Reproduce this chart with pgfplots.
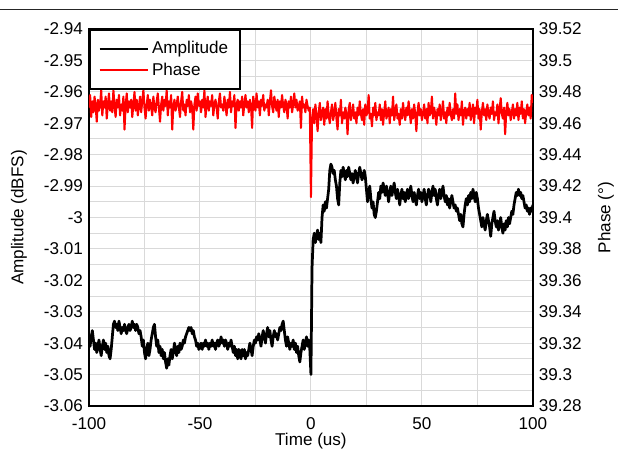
\documentclass[border=0pt]{standalone}
\usepackage{pgfplots}
\pgfplotsset{compat=1.18}
\usepackage{fontspec}
\setmainfont{Liberation Sans}
\begin{document}
\begin{tikzpicture}
\useasboundingbox (-52.07pt,-25.16pt) rectangle (309.5pt,237.5pt);
\draw[line width=0.6pt, black!85] (-52.07pt,231.7pt) -- (309.5pt,231.7pt);
\pgfplotsset{
  common/.style={
    scale only axis, width=259.7pt, height=220.5pt, at={(0pt,0pt)}, anchor=south west,
    xmin=-100, xmax=100,
    /pgf/number format/assume math mode=true,
    /pgf/number format/fixed,
    /pgf/number format/precision=2,
    tick label style={font=\fontsize{10}{12}\selectfont},
    label style={font=\fontsize{10}{12}\selectfont},
    major tick length=0pt, minor tick length=0pt,
    axis line style={line width=1.2pt},
  }
}
\begin{axis}[common,
  ymin=-3.06, ymax=-2.94,
  xtick={-100,-50,0,50,100}, minor xtick={-75,-25,25,75},
  xticklabel style={yshift=-3.5pt},
  ytick={-3.06,-3.05,-3.04,-3.03,-3.02,-3.01,-3,-2.99,-2.98,-2.97,-2.96,-2.95,-2.94},
  minor ytick={-3.055,-3.045,-3.035,-3.025,-3.015,-3.005,-2.995,-2.985,-2.975,-2.965,-2.955,-2.945},
  grid=both, major grid style={gray!30, line width=0.6pt}, minor grid style={gray!30, line width=0.6pt},
  xlabel={Time (us)}, ylabel={Amplitude (dBFS)},
  xlabel style={at={(axis description cs:0.5,-0.1061)}, anchor=base},
  ylabel style={at={(axis description cs:-0.158,0.5)}, anchor=center},
]
\addplot[black, line width=1.6pt, line join=round] table[x expr=\coordindex/2-100, y index=0, row sep=\\, header=false] {
-3.040\\-3.041\\-3.038\\-3.036\\-3.039\\-3.042\\-3.040\\-3.043\\-3.041\\-3.039\\-3.042\\-3.044\\-3.041\\-3.039\\-3.042\\-3.040\\-3.043\\-3.041\\-3.044\\-3.045\\
-3.042\\-3.038\\-3.034\\-3.033\\-3.035\\-3.034\\-3.036\\-3.033\\-3.035\\-3.037\\-3.035\\-3.036\\-3.034\\-3.036\\-3.037\\-3.035\\-3.034\\-3.036\\-3.035\\-3.033\\
-3.035\\-3.034\\-3.036\\-3.034\\-3.035\\-3.037\\-3.036\\-3.038\\-3.041\\-3.039\\-3.043\\-3.045\\-3.042\\-3.040\\-3.044\\-3.042\\-3.039\\-3.037\\-3.035\\-3.034\\
-3.038\\-3.041\\-3.039\\-3.043\\-3.041\\-3.044\\-3.042\\-3.045\\-3.043\\-3.046\\-3.048\\-3.045\\-3.047\\-3.044\\-3.042\\-3.045\\-3.043\\-3.040\\-3.042\\-3.044\\
-3.041\\-3.043\\-3.040\\-3.042\\-3.041\\-3.039\\-3.040\\-3.038\\-3.037\\-3.036\\-3.035\\-3.036\\-3.035\\-3.037\\-3.036\\-3.038\\-3.039\\-3.041\\-3.040\\-3.042\\
-3.041\\-3.040\\-3.042\\-3.040\\-3.041\\-3.039\\-3.041\\-3.040\\-3.042\\-3.040\\-3.041\\-3.039\\-3.041\\-3.040\\-3.042\\-3.040\\-3.039\\-3.041\\-3.040\\-3.038\\
-3.040\\-3.039\\-3.041\\-3.039\\-3.040\\-3.042\\-3.040\\-3.041\\-3.039\\-3.041\\-3.043\\-3.041\\-3.044\\-3.042\\-3.045\\-3.042\\-3.043\\-3.045\\-3.042\\-3.044\\
-3.042\\-3.045\\-3.043\\-3.044\\-3.042\\-3.040\\-3.042\\-3.044\\-3.041\\-3.039\\-3.040\\-3.038\\-3.039\\-3.037\\-3.039\\-3.041\\-3.038\\-3.036\\-3.038\\-3.040\\
-3.037\\-3.035\\-3.038\\-3.036\\-3.039\\-3.041\\-3.038\\-3.036\\-3.038\\-3.037\\-3.039\\-3.037\\-3.035\\-3.036\\-3.034\\-3.033\\-3.036\\-3.039\\-3.041\\-3.038\\
-3.040\\-3.042\\-3.040\\-3.041\\-3.039\\-3.042\\-3.040\\-3.043\\-3.041\\-3.044\\-3.046\\-3.043\\-3.041\\-3.039\\-3.042\\-3.040\\-3.038\\-3.041\\-3.039\\-3.042\\
-3.050\\
-3.016\\-3.007\\-3.005\\-3.008\\-3.006\\-3.004\\-3.007\\-3.005\\-3.008\\-3.000\\-2.996\\-2.998\\-2.995\\-2.997\\-2.994\\-2.991\\-2.985\\-2.983\\-2.984\\-2.986\\
-2.985\\-2.988\\-2.990\\-2.994\\-2.996\\-2.989\\-2.985\\-2.987\\-2.984\\-2.986\\-2.988\\-2.985\\-2.987\\-2.984\\-2.986\\-2.988\\-2.986\\-2.989\\-2.987\\-2.985\\
-2.987\\-2.989\\-2.986\\-2.984\\-2.986\\-2.988\\-2.987\\-2.985\\-2.987\\-2.991\\-2.995\\-2.992\\-2.990\\-2.994\\-2.997\\-2.995\\-2.999\\-3.000\\-2.998\\-2.995\\
-2.992\\-2.994\\-2.990\\-2.992\\-2.989\\-2.991\\-2.993\\-2.990\\-2.992\\-2.995\\-2.992\\-2.990\\-2.993\\-2.991\\-2.989\\-2.992\\-2.994\\-2.991\\-2.993\\-2.996\\
-2.993\\-2.991\\-2.994\\-2.992\\-2.995\\-2.993\\-2.991\\-2.994\\-2.992\\-2.990\\-2.993\\-2.995\\-2.992\\-2.994\\-2.996\\-2.993\\-2.991\\-2.994\\-2.992\\-2.995\\
-2.993\\-2.991\\-2.994\\-2.996\\-2.993\\-2.991\\-2.992\\-2.995\\-2.992\\-2.990\\-2.993\\-2.991\\-2.994\\-2.996\\-2.993\\-2.991\\-2.994\\-2.992\\-2.990\\-2.993\\
-2.995\\-2.993\\-2.996\\-2.994\\-2.997\\-2.995\\-2.993\\-2.995\\-2.997\\-2.996\\-2.998\\-2.997\\-2.999\\-3.001\\-2.999\\-3.002\\-3.003\\-2.999\\-2.996\\-2.994\\
-2.996\\-2.993\\-2.995\\-2.992\\-2.994\\-2.991\\-2.993\\-2.995\\-2.992\\-2.994\\-2.997\\-2.999\\-3.001\\-3.003\\-3.000\\-3.002\\-3.004\\-3.001\\-2.999\\-3.001\\
-3.003\\-3.006\\-3.002\\-3.000\\-2.998\\-3.001\\-3.003\\-3.001\\-3.004\\-3.002\\-3.000\\-3.003\\-3.005\\-3.002\\-3.004\\-3.001\\-3.003\\-3.000\\-3.002\\-3.000\\
-2.998\\-2.999\\-2.996\\-2.994\\-2.992\\-2.993\\-2.991\\-2.993\\-2.992\\-2.994\\-2.993\\-2.995\\-2.997\\-2.996\\-2.998\\-2.997\\-2.999\\-2.997\\-2.998\\-2.996\\
};
\end{axis}
\begin{axis}[common,
  ymin=39.28, ymax=39.52,
  axis y line*=right, axis x line=none, xtick=\empty,
  ytick={39.28,39.3,39.32,39.34,39.36,39.38,39.4,39.42,39.44,39.46,39.48,39.5,39.52},
  ylabel={Phase (°)},
  ylabel style={at={(axis description cs:1.1644,0.5)}, anchor=center},
  legend style={at={(0,1)}, anchor=north west, draw=black, line width=1.2pt, fill=white,
    inner xsep=5pt, inner ysep=4.5pt, font=\fontsize{10}{12}\selectfont},
  legend cell align=left,
  legend image code/.code={\draw[#1] (0pt,0pt) -- (28pt,0pt);},
]
\addlegendimage{black, line width=1.3pt}
\addlegendentry{Amplitude}
\addplot[red, line width=1.2pt, line join=round] table[x expr=\coordindex/2-100, y index=0, row sep=\\, header=false] {
39.470\\39.478\\39.464\\39.474\\39.467\\39.477\\39.471\\39.461\\39.475\\39.468\\39.472\\39.481\\39.465\\39.474\\39.470\\39.477\\39.463\\39.472\\39.479\\39.468\\
39.474\\39.467\\39.481\\39.471\\39.464\\39.475\\39.470\\39.478\\39.465\\39.472\\39.468\\39.477\\39.456\\39.471\\39.479\\39.467\\39.474\\39.470\\39.475\\39.464\\
39.472\\39.480\\39.468\\39.475\\39.465\\39.471\\39.477\\39.467\\39.474\\39.481\\39.470\\39.463\\39.472\\39.478\\39.468\\39.475\\39.471\\39.465\\39.477\\39.470\\
39.467\\39.474\\39.479\\39.470\\39.461\\39.472\\39.477\\39.468\\39.475\\39.471\\39.481\\39.465\\39.474\\39.470\\39.478\\39.456\\39.471\\39.475\\39.468\\39.472\\
39.477\\39.470\\39.464\\39.474\\39.480\\39.468\\39.472\\39.465\\39.475\\39.471\\39.478\\39.467\\39.474\\39.470\\39.456\\39.472\\39.477\\39.468\\39.479\\39.471\\
39.474\\39.467\\39.475\\39.470\\39.481\\39.464\\39.472\\39.477\\39.468\\39.474\\39.471\\39.478\\39.465\\39.472\\39.475\\39.470\\39.463\\39.474\\39.479\\39.470\\
39.472\\39.468\\39.477\\39.471\\39.465\\39.475\\39.470\\39.480\\39.467\\39.474\\39.471\\39.478\\39.457\\39.472\\39.475\\39.468\\39.474\\39.470\\39.477\\39.465\\
39.472\\39.478\\39.470\\39.474\\39.467\\39.475\\39.471\\39.457\\39.477\\39.472\\39.468\\39.479\\39.470\\39.474\\39.465\\39.475\\39.471\\39.478\\39.468\\39.472\\
39.470\\39.475\\39.465\\39.474\\39.481\\39.471\\39.467\\39.477\\39.472\\39.468\\39.475\\39.464\\39.474\\39.470\\39.478\\39.471\\39.467\\39.475\\39.472\\39.463\\
39.474\\39.470\\39.477\\39.467\\39.472\\39.479\\39.470\\39.475\\39.468\\39.471\\39.474\\39.457\\39.477\\39.470\\39.472\\39.467\\39.475\\39.471\\39.468\\39.470\\
39.413\\
39.463\\39.469\\39.460\\39.472\\39.465\\39.455\\39.467\\39.473\\39.462\\39.466\\39.470\\39.459\\39.469\\39.463\\39.474\\39.465\\39.460\\39.467\\39.472\\39.462\\
39.466\\39.473\\39.463\\39.456\\39.469\\39.465\\39.475\\39.460\\39.467\\39.463\\39.470\\39.466\\39.453\\39.469\\39.473\\39.462\\39.466\\39.472\\39.463\\39.467\\
39.460\\39.470\\39.465\\39.474\\39.466\\39.462\\39.469\\39.459\\39.472\\39.465\\39.467\\39.478\\39.463\\39.466\\39.458\\39.470\\39.465\\39.473\\39.462\\39.467\\
39.465\\39.472\\39.462\\39.469\\39.459\\39.467\\39.474\\39.463\\39.466\\39.470\\39.460\\39.469\\39.465\\39.477\\39.462\\39.467\\39.472\\39.463\\39.466\\39.459\\
39.469\\39.463\\39.473\\39.466\\39.462\\39.470\\39.465\\39.474\\39.467\\39.460\\39.469\\39.463\\39.472\\39.466\\39.455\\39.467\\39.473\\39.465\\39.469\\39.462\\
39.466\\39.472\\39.463\\39.469\\39.460\\39.473\\39.465\\39.467\\39.477\\39.463\\39.470\\39.466\\39.459\\39.469\\39.465\\39.472\\39.462\\39.467\\39.474\\39.463\\
39.467\\39.460\\39.470\\39.465\\39.473\\39.466\\39.462\\39.469\\39.463\\39.479\\39.466\\39.472\\39.462\\39.469\\39.465\\39.474\\39.459\\39.467\\39.470\\39.463\\
39.469\\39.465\\39.473\\39.462\\39.467\\39.472\\39.460\\39.470\\39.466\\39.475\\39.463\\39.469\\39.456\\39.467\\39.473\\39.465\\39.469\\39.462\\39.472\\39.466\\
39.463\\39.470\\39.466\\39.474\\39.462\\39.467\\39.465\\39.472\\39.460\\39.469\\39.476\\39.466\\39.463\\39.470\\39.453\\39.467\\39.473\\39.465\\39.469\\39.462\\
39.467\\39.472\\39.463\\39.469\\39.465\\39.473\\39.462\\39.470\\39.466\\39.474\\39.463\\39.469\\39.460\\39.467\\39.472\\39.465\\39.470\\39.463\\39.478\\39.473\\
};
\addlegendentry{Phase}
\end{axis}
\end{tikzpicture}
\end{document}
